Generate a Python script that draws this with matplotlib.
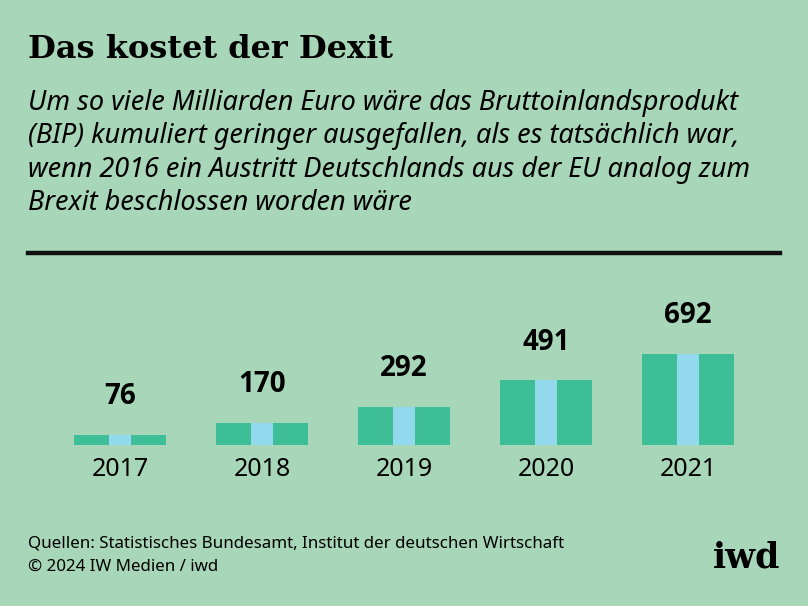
import matplotlib
matplotlib.use("Agg")
import matplotlib.pyplot as plt
from matplotlib.lines import Line2D

years = ["2017", "2018", "2019", "2020", "2021"]
values = [76, 170, 292, 491, 692]

bg = "#a7d7b8"
green = "#3dbe96"
blue = "#93d9ee"

fig = plt.figure(figsize=(8.08, 6.06), dpi=100, facecolor=bg)
W, H = 808, 606

def fy(p):
    return 1 - p / H

fig.text(28/W, fy(50), "Das kostet der Dexit", family="DejaVu Serif", weight="bold",
         fontsize=23, va="center", ha="left")
sub = ["Um so viele Milliarden Euro wäre das Bruttoinlandsprodukt",
       "(BIP) kumuliert geringer ausgefallen, als es tatsächlich war,",
       "wenn 2016 ein Austritt Deutschlands aus der EU analog zum",
       "Brexit beschlossen worden wäre"]
for i, s in enumerate(sub):
    fig.text(28/W, fy(103 + 33.5*i), s, family="Noto Sans", style="italic",
             fontsize=19.5, va="center", ha="left")
fig.add_artist(Line2D([28/W, 780/W], [fy(253), fy(253)], color="#111111", lw=3.2))

ax = fig.add_axes([28/W, fy(445), (780-28)/W, (445-254)/H])
ax.set_facecolor(bg)
scale = 0.1315
ax.set_xlim(-0.648, 4.648)
ax.set_ylim(0, (445-254)/scale)
x = range(len(values))
ax.bar(x, values, width=0.648, color=green)
ax.bar(x, values, width=0.155, color=blue)
for xi, v, yr in zip(x, values, years):
    ax.text(xi, v + 290, str(v), ha="center", va="center", fontsize=20,
            weight="bold", family="Open Sans")
    ax.text(xi, -190, yr, ha="center", va="center", fontsize=18,
            family="Noto Sans")
ax.axis("off")

fig.text(28/W, fy(543), "Quellen: Statistisches Bundesamt, Institut der deutschen Wirtschaft",
         family="Noto Sans", fontsize=12.2, va="center")
fig.text(28/W, fy(567), "© 2024 IW Medien / iwd", family="Noto Sans", fontsize=12.2, va="center")
fig.text(780/W, fy(557), "iwd", family="DejaVu Serif", weight="bold", fontsize=25,
         va="center", ha="right")

fig.savefig("out.png", dpi=100, facecolor=bg)
